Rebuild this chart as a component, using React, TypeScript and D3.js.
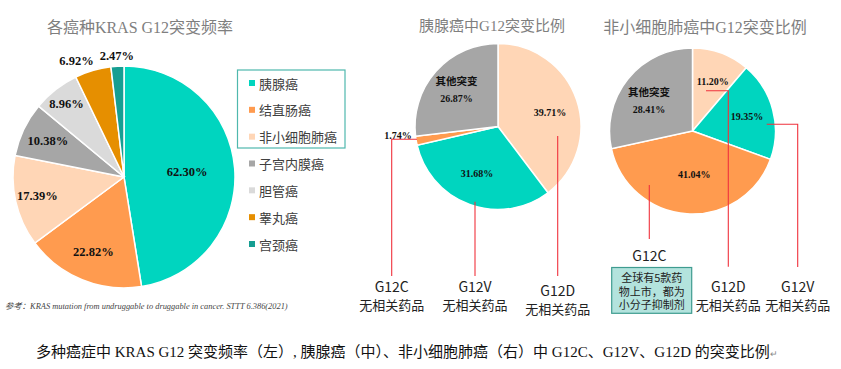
import React from 'react';
import * as d3 from 'd3';

// left chart: KRAS G12 frequency per cancer type
const cancerTypes = ['胰腺癌', '结直肠癌', '非小细胞肺癌', '子宫内膜癌', '胆管癌', '睾丸癌', '宫颈癌'];
const cancerFreq = [62.30, 22.82, 17.39, 10.38, 8.96, 6.92, 2.47];
const cancerColors = ['#00d5bf', '#ff9b4f', '#ffd6b6', '#a6a6a6', '#dadada', '#e68f00', '#169e92'];

// middle chart: pancreatic cancer
const pancMutations = ['G12D', 'G12V', 'G12C', '其他突变'];
const pancValues = [39.71, 31.68, 1.74, 26.87];
const pancColors = ['#ffd6b6', '#00d5bf', '#ff9b4f', '#a6a6a6'];

// right chart: NSCLC
const nsclcMutations = ['G12D', 'G12V', 'G12C', '其他突变'];
const nsclcValues = [11.20, 19.35, 41.04, 28.41];
const nsclcColors = ['#ffd6b6', '#00d5bf', '#ff9b4f', '#a6a6a6'];

const noDrug = '无相关药品';
const boxLines = ['全球有5款药', '物上市，都为', '小分子抑制剂'];

const serif = '"Liberation Serif", "Noto Sans CJK SC", serif';
const sans = '"Noto Sans CJK SC", "Noto Sans", sans-serif';
const RED = '#f0323c';

type PieProps = {
  cx: number; cy: number; r: number;
  values: number[]; colors: string[];
  labelR: number[]; labelDA?: number[]; fontSize: number;
  names?: string[];
};

const Pie = ({ cx, cy, r, values, colors, labelR, labelDA, fontSize, names }: PieProps) => {
  const arcs = d3.pie<number>().sort(null).value(d => d)(values);
  const arc = d3.arc<d3.PieArcDatum<number>>().innerRadius(0).outerRadius(r);
  return (
    <g transform={`translate(${cx},${cy})`}>
      {arcs.map((a, i) => (
        <path key={i} d={arc(a) || ''} fill={colors[i]} stroke="#fff" strokeWidth={1.5} />
      ))}
      {arcs.map((a, i) => {
        const lr = labelR[i] * r;
        // nudge the label angle a little where the slice is thin
        const da = ((labelDA ? labelDA[i] : 0) * Math.PI) / 180;
        const mid = (a.startAngle + a.endAngle) / 2 + da;
        const x = Math.sin(mid) * lr;
        const y = -Math.cos(mid) * lr;
        const txt = values[i].toFixed(2) + '%';
        const showName = names && names[i] === '其他突变';
        return (
          <g key={'l' + i}>
            {showName && (
              <text x={x} y={y - 9} textAnchor="middle" dominantBaseline="central"
                fontFamily={sans} fontWeight={700} fontSize={fontSize + 0.5} fill="#111">{names![i]}</text>
            )}
            <text x={x} y={showName ? y + 9 : y} textAnchor="middle" dominantBaseline="central"
              fontFamily={serif} fontWeight={700} fontSize={fontSize} fill="#111">{txt}</text>
          </g>
        );
      })}
    </g>
  );
};

const Callout = ({ pts, x, y1, y2, name, withSub }: { pts: [number, number][]; x: number; y1: number; y2: number; name: string; withSub?: boolean }) => {
  const line = d3.line();
  return (
    <g>
      <path d={line(pts) || ''} fill="none" stroke={RED} strokeWidth={1.1} />
      <text x={x} y={y1} textAnchor="middle" dominantBaseline="central" fontFamily={sans} fontSize={14} fill="#222">{name}</text>
      {withSub && (
        <text x={x} y={y2} textAnchor="middle" dominantBaseline="central" fontFamily={sans} fontSize={13} fill="#222">{noDrug}</text>
      )}
    </g>
  );
};

export default function App() {
  const W = 841, H = 369;
  const legendY = d3.scalePoint<string>().domain(cancerTypes).range([83, 244]);

  // middle pie centre
  const mx = 498, my = 126.5;
  // right pie centre
  const rx = 692.5, ry = 131;

  return (
    <div>
      <style>{'body{margin:0;background:#fff}'}</style>
      <svg width={W} height={H} style={{ display: 'block' }}>
        <rect width={W} height={H} fill="#fff" />

        {/* left chart */}
        <text x={140} y={27} textAnchor="middle" dominantBaseline="central" fontFamily={serif} fontSize={16} fill="#7f7f7f">各癌种KRAS G12突变频率</text>
        <Pie cx={124} cy={177} r={111} values={cancerFreq} colors={cancerColors}
          labelR={[0.57, 0.73, 0.8, 0.76, 0.84, 1.13, 1.09]}
          labelDA={[0, 0, 0, 0, 0, -6, 0]} fontSize={12.5} />
        <rect x={237.5} y={70} width={107.5} height={78} fill="none" stroke="#4fb8ad" strokeWidth={1.2} />
        {cancerTypes.map((c, i) => (
          <g key={c}>
            <rect x={249} y={legendY(c)! - 3} width={6} height={6} fill={cancerColors[i]} />
            <text x={259} y={legendY(c)!} dominantBaseline="central" fontFamily={sans} fontSize={13} fill="#404040">{c}</text>
          </g>
        ))}
        <text x={5} y={309} fontFamily={serif} fontStyle="italic" fontSize={8.4} fill="#444">
          参考：KRAS mutation from undruggable to druggable in cancer. STTT 6.386(2021)
        </text>

        {/* middle chart */}
        <text x={492} y={26} textAnchor="middle" dominantBaseline="central" fontFamily={serif} fontSize={15} fill="#7f7f7f">胰腺癌中G12突变比例</text>
        <Pie cx={mx} cy={my} r={83} values={pancValues} colors={pancColors}
          labelR={[0.65, 0.62, 1.21, 0.67]} labelDA={[3, 4, 5, 0]} fontSize={10} names={pancMutations} />
        <Callout pts={[[mx - 81, my + 12.8], [mx - 106.3, my + 12.8], [mx - 106.3, 276]]} x={mx - 106.3} y1={286} y2={304} name={pancMutations[2]} withSub />
        <Callout pts={[[mx - 23, my + 75.2], [mx - 23, 276]]} x={mx - 23} y1={286} y2={304} name={pancMutations[1]} withSub />
        <Callout pts={[[mx + 59.7, my + 9.5], [mx + 59.7, 276]]} x={mx + 59.7} y1={290} y2={308} name={pancMutations[0]} withSub />

        {/* right chart */}
        <text x={705} y={27} textAnchor="middle" dominantBaseline="central" fontFamily={serif} fontSize={16} fill="#7f7f7f">非小细胞肺癌中G12突变比例</text>
        <Pie cx={rx} cy={ry} r={83} values={nsclcValues} colors={nsclcColors}
          labelR={[0.65, 0.68, 0.52, 0.64]} labelDA={[2, 0, -6, -4]} fontSize={10} names={nsclcMutations} />
        <Callout pts={[[rx + 13.5, ry - 40.3], [rx + 35.8, ry - 40.3], [rx + 35.8, 266.7]]} x={rx + 35.8} y1={286} y2={304} name={nsclcMutations[0]} withSub />
        <Callout pts={[[rx + 74.2, ry - 6.7], [rx + 105.2, ry - 6.7], [rx + 105.2, 267]]} x={rx + 105.2} y1={286} y2={304} name={nsclcMutations[1]} withSub />
        <Callout pts={[[rx - 43.2, ry + 54], [rx - 43.2, 239]]} x={rx - 43.2} y1={255} y2={0} name={nsclcMutations[2]} />
        <rect x={611.7} y={267.5} width={80} height={45.8} fill="#b3e3dd" stroke="#3f9c90" strokeWidth={1.2} />
        {boxLines.map((t, i) => (
          <text key={t} x={651.7} y={277 + i * 13.6} textAnchor="middle" dominantBaseline="central" fontFamily={sans} fontSize={11} fill="#222">{t}</text>
        ))}

        {/* caption */}
        <text x={36} y={357} fontFamily={serif} fontSize={15} fill="#111">
          多种癌症中 KRAS G12 突变频率（左）, 胰腺癌（中）、非小细胞肺癌（右）中 G12C、G12V、G12D 的突变比例
          <tspan fontSize={9} fill="#888">↵</tspan>
        </text>
      </svg>
    </div>
  );
}
